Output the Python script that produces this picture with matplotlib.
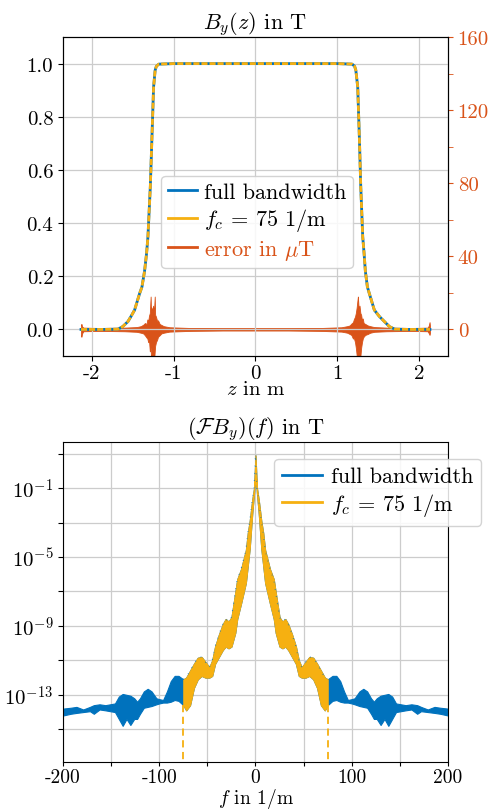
import numpy as np
import matplotlib
matplotlib.use("Agg")
import matplotlib.pyplot as plt
from matplotlib.lines import Line2D
from matplotlib.ticker import FixedLocator, FuncFormatter

plt.rcParams['font.family'] = ['cmr10', 'DejaVu Serif']
plt.rcParams['mathtext.fontset'] = 'cm'
plt.rcParams['axes.unicode_minus'] = False
plt.rcParams['font.size'] = 15

BLUE = '#0072BD'
ORANGE = '#F6B011'
RED = '#D95319'

# field profile B_y(z)
z_field = [-2.13, -1.9, -1.68, -1.62, -1.557, -1.52, -1.476, -1.415, -1.386, -1.354,
           -1.33, -1.313, -1.284, -1.264, -1.244, -1.225, -1.21, -1.18, -1.0, 0.0,
           1.0, 1.18, 1.21, 1.225, 1.248, 1.268, 1.285, 1.309, 1.326, 1.341,
           1.366, 1.39, 1.451, 1.512, 1.573, 1.634, 1.7, 1.9, 2.13]
b_field = [0.0, 0.0, 0.001, 0.011, 0.03, 0.049, 0.073, 0.135, 0.16, 0.22,
           0.285, 0.349, 0.537, 0.724, 0.912, 0.975, 0.99, 0.998, 1.0, 1.0,
           1.0, 0.998, 0.99, 0.975, 0.912, 0.724, 0.537, 0.349, 0.285, 0.22,
           0.16, 0.135, 0.073, 0.049, 0.03, 0.011, 0.001, 0.0, 0.0]

# error envelope in uT (upper / lower extent of the noisy trace)
z_err = [-2.13, -2.125, -2.115, -2.1, -1.9, -1.6, -1.45, -1.40, -1.37, -1.35,
         -1.33, -1.32, -1.31, -1.30, -1.29, -1.28, -1.275, -1.27, -1.26, -1.25,
         -1.24, -1.23, -1.225, -1.215, -1.20, -1.19, -1.17, -1.15, -1.12, -1.05,
         -0.8, -0.4, 0.0, 0.4, 0.8,
         1.05, 1.12, 1.15, 1.17, 1.19, 1.20, 1.215, 1.225, 1.235, 1.245,
         1.25, 1.26, 1.27, 1.28, 1.29, 1.30, 1.31, 1.32, 1.34, 1.37,
         1.40, 1.45, 1.6, 1.9, 2.1, 2.115, 2.125, 2.13]
err_hi = [2.5, 3.0, 1.5, 1.0, 0.8, 1.0, 1.3, 1.8, 2.6, 3.5,
          3.0, 5.5, 4.5, 7.5, 9.0, 18.0, 9.0, 12.0, 10.0, 13.0,
          9.0, 18.0, 8.0, 7.0, 4.5, 5.0, 3.0, 2.5, 1.8, 1.2,
          0.8, 0.6, 0.6, 0.6, 0.8,
          1.2, 1.8, 2.2, 3.2, 4.0, 5.5, 7.0, 9.0, 12.0, 16.0,
          18.0, 11.0, 13.0, 9.0, 8.0, 5.0, 6.0, 3.5, 3.0, 2.2,
          1.8, 1.3, 1.0, 0.8, 1.0, 2.0, 4.0, 2.0]
err_lo = [-3.5, -4.0, -2.0, -1.0, -0.8, -1.0, -1.3, -1.8, -2.2, -3.2,
          -4.5, -5.0, -7.0, -6.0, -12.0, -10.0, -16.0, -14.0, -18.0, -17.0,
          -18.0, -12.0, -9.0, -7.0, -5.5, -4.0, -3.2, -2.2, -1.8, -1.2,
          -0.8, -0.6, -0.6, -0.6, -0.8,
          -1.2, -1.8, -2.5, -3.0, -5.0, -4.5, -7.0, -10.0, -14.0, -18.0,
          -16.0, -18.0, -17.0, -15.0, -10.0, -7.0, -5.0, -4.0, -3.0, -2.5,
          -1.8, -1.3, -1.0, -0.8, -1.0, -2.0, -3.0, -2.0]

# spectrum envelope (log10 of |FB_y|), one side, mirrored about f = 0
f_side = [0, 1.5, 3.4, 6, 8, 10, 15, 19, 21, 25,
          28, 31, 34, 38, 42, 45, 48, 52, 56, 60,
          64, 68, 72, 75, 80, 84, 88, 92, 96, 100,
          103, 108, 112, 116, 120, 123, 126, 130, 134, 138,
          142, 146, 151, 156, 162, 168, 172, 179, 186, 192, 200]
spec_hi = [0.9, -1.0, -1.7, -2.9, -3.6, -4.6, -5.7, -6.3, -7.05, -8.5,
           -8.75, -8.6, -8.9, -9.5, -10.2, -11.0, -11.4, -11.1, -10.8, -10.85,
           -11.2, -11.6, -12.0, -12.1, -11.9, -11.9, -12.2, -12.8, -13.3, -13.25,
           -13.2, -12.8, -12.65, -12.8, -13.2, -13.4, -13.2, -13.05, -13.0, -12.95,
           -13.1, -13.5, -13.55, -13.6, -13.55, -13.6, -13.7, -13.85, -13.7, -13.75, -13.8]
spec_lo = [0.0, -1.3, -2.5, -4.5, -5.5, -6.5, -7.7, -8.6, -9.4, -10.2,
           -10.3, -10.2, -10.4, -10.8, -11.2, -11.9, -12.0, -12.0, -11.9, -12.1,
           -12.6, -13.6, -13.9, -13.6, -13.35, -13.3, -13.4, -13.45, -13.45, -13.5,
           -13.55, -13.65, -13.7, -13.75, -14.1, -14.4, -14.4, -14.75, -14.4, -14.8,
           -14.4, -14.0, -13.95, -13.9, -13.85, -14.1, -13.95, -14.0, -14.05, -14.1, -14.2]
fc = 75
spec_floor = -18

fig = plt.figure(figsize=(4.91, 8.12), dpi=100)
ax1 = fig.add_axes([0.1283, 0.5603, 0.7841, 0.3929])
ax2 = fig.add_axes([0.1283, 0.0603, 0.7841, 0.3941])

# ---- top panel ----
ax1.plot(z_field, b_field, color=BLUE, lw=2, zorder=3)
ax1.plot(z_field, b_field, color=ORANGE, lw=2, ls=(0, (2.2, 0.7)), zorder=4)
ax1.set_xlim(-2.35, 2.35)
ax1.set_ylim(-0.1, 1.1)
ax1.set_yticks([0.0, 0.2, 0.4, 0.6, 0.8, 1.0])
ax1.set_xticks([-2, -1, 0, 1, 2])
ax1.grid(True, color='#cccccc', lw=0.9)
ax1.set_axisbelow(True)
ax1.set_title(r'$B_y(z)$ in T', fontsize=16)
ax1.tick_params(axis='x', pad=2)
ax1.set_xlabel(r'$z$ in m', labelpad=-1)

ax1r = ax1.twinx()
ax1r.fill_between(z_err, err_lo, err_hi, color=RED, lw=0.6, zorder=2)
ax1r.plot(z_err, np.zeros(len(z_err)), color=RED, lw=1.2)
ax1r.set_ylim(-14.55, 160)
ax1r.set_yticks([0, 40, 80, 120, 160])
ax1r.yaxis.set_minor_locator(FixedLocator([20, 60, 100, 140]))
ax1r.tick_params(axis='y', which='both', colors=RED)
ax1r.tick_params(axis='y', which='minor', length=3.5)
ax1.set_zorder(ax1r.get_zorder() + 1)
ax1.patch.set_visible(False)

h1 = [Line2D([], [], color=BLUE, lw=2), Line2D([], [], color=ORANGE, lw=2),
      Line2D([], [], color=RED, lw=2)]
leg1 = ax1.legend(h1, ['full bandwidth', r'$f_c$ = 75 1/m', r'error in $\mu$T'],
                  loc='center', bbox_to_anchor=(0.504, 0.42), fontsize=16,
                  handlelength=1.3, handletextpad=0.3, labelspacing=0.2,
                  borderpad=0.3, borderaxespad=0, framealpha=0.85, edgecolor='#cccccc')
leg1.get_texts()[2].set_color(RED)

# ---- bottom panel ----
f_pos = np.array(f_side, dtype=float)
f_all = np.concatenate([-f_pos[:0:-1], f_pos])
hi_all = np.concatenate([np.array(spec_hi)[:0:-1], spec_hi])
lo_all = np.concatenate([np.array(spec_lo)[:0:-1], spec_lo])
inside = np.abs(f_all) <= fc

ax2.fill_between(f_all, 10.0 ** lo_all, 10.0 ** hi_all, color=BLUE, lw=0.8, zorder=2)
ax2.fill_between(f_all[inside], 10.0 ** lo_all[inside], 10.0 ** hi_all[inside],
                 color=ORANGE, lw=0.8, zorder=3)
edge_lo = 10.0 ** lo_all[inside][[0, -1]]
for sgn, y0 in zip([-1, 1], edge_lo):
    ax2.plot([sgn * fc, sgn * fc], [y0, 10.0 ** spec_floor], color=ORANGE,
             lw=1.3, ls=(0, (4, 2.5)), zorder=3)
ax2.plot(f_all[inside], 10.0 ** hi_all[inside], color=BLUE, lw=0.8, ls=(0, (0.6, 6)), zorder=4)

ax2.set_yscale('log')
ax2.set_xlim(-200, 200)
ax2.set_ylim(10 ** -16.9, 10 ** 1.67)
ax2.set_xticks(np.arange(-200, 201, 50))
ax2.xaxis.set_major_formatter(FuncFormatter(lambda v, p: '%d' % v if int(v) % 100 == 0 else ''))
ax2.yaxis.set_major_locator(FixedLocator([10.0 ** k for k in range(1, -17, -2)]))
ax2.yaxis.set_minor_locator(FixedLocator([]))
ax2.yaxis.set_major_formatter(FuncFormatter(
    lambda v, p: r'$10^{%d}$' % round(np.log10(v)) if round(np.log10(v)) % 4 == 3 else ''))
ax2.grid(True, color='#cccccc', lw=0.9)
ax2.set_axisbelow(True)
ax2.set_title(r'$(\mathcal{F}B_y)(f)$ in T', fontsize=16)
ax2.tick_params(axis='x', pad=1.5, length=3, labelsize=14)
ax2.set_xlabel(r'$f$ in 1/m', labelpad=0, fontsize=14)

h2 = [Line2D([], [], color=BLUE, lw=2), Line2D([], [], color=ORANGE, lw=2)]
ax2.legend(h2, ['full bandwidth', r'$f_c$ = 75 1/m'], loc='upper right',
           bbox_to_anchor=(1.086, 0.947), borderaxespad=0, fontsize=16,
           handlelength=1.8, handletextpad=0.4, labelspacing=0.2,
           borderpad=0.35, framealpha=0.85, edgecolor='#cccccc')

fig.savefig('out.png', dpi=100)
